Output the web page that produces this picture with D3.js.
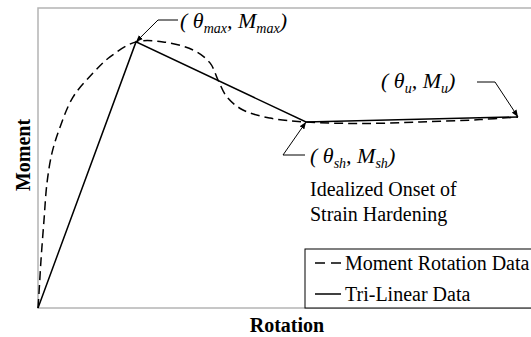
<!DOCTYPE html>
<html>
<head>
<meta charset="utf-8">
<script src="https://cdn.jsdelivr.net/npm/d3@7"></script>
<style>
  html, body { margin: 0; padding: 0; background: #fff; }
  svg { display: block; }
  text { font-family: "Liberation Serif", "Times New Roman", serif; fill: #000; }
</style>
</head>
<body>
<svg id="chart" width="531" height="337"></svg>
<script>
// Measured moment–rotation response (normalised rotation, normalised moment)
const momentRotationData = [
  [0, 0], [0.2, 5], [0.6, 16], [1.2, 29.3], [1.8, 41.7], [2.8, 51.7],
  [4.2, 59.3], [7, 70.3], [11, 78.3], [14.4, 83.7], [19.6, 88.7],
  [25, 88.7], [31, 86], [34.4, 81.7], [36, 76], [37.8, 70.3], [41, 66],
  [46.4, 63.3], [53.6, 62], [64.4, 61.5], [76.4, 62], [88.4, 62.8], [96, 63.7]
];

// Tri-linear idealisation: origin, peak, onset of strain hardening, ultimate
const triLinearData = [[0, 0], [19.6, 88.7], [53.6, 62], [96, 63.7]];

const pointMax = triLinearData[1];
const pointSh = triLinearData[2];
const pointU = triLinearData[3];

const legendLabels = ["Moment Rotation Data", "Tri-Linear Data"];

const svg = d3.select("#chart");
const plotLeft = 38, plotTop = 8, plotBottom = 308, plotRight = 538;

const x = d3.scaleLinear().domain([0, 100]).range([plotLeft, plotRight]);
const y = d3.scaleLinear().domain([0, 100]).range([plotBottom, plotTop]);

// arrowhead marker
const defs = svg.append("defs");
defs.append("marker")
  .attr("id", "arrow")
  .attr("viewBox", "0 0 10 10")
  .attr("refX", 10).attr("refY", 5)
  .attr("markerWidth", 7).attr("markerHeight", 7)
  .attr("markerUnits", "userSpaceOnUse")
  .attr("orient", "auto")
  .append("path").attr("d", "M0,1 L10,5 L0,9 Z").attr("fill", "#000");

// plot frame
svg.append("rect")
  .attr("x", plotLeft).attr("y", plotTop)
  .attr("width", plotRight - plotLeft).attr("height", plotBottom - plotTop)
  .attr("fill", "none").attr("stroke", "#b4b4b4").attr("stroke-width", 1.5);

svg.append("path")
  .datum(momentRotationData)
  .attr("d", d3.line().x(d => x(d[0])).y(d => y(d[1])).curve(d3.curveCatmullRom.alpha(0.5)))
  .attr("fill", "none").attr("stroke", "#000")
  .attr("stroke-width", 1.5).attr("stroke-dasharray", "9,5");

svg.append("path")
  .datum(triLinearData)
  .attr("d", d3.line().x(d => x(d[0])).y(d => y(d[1])))
  .attr("fill", "none").attr("stroke", "#000").attr("stroke-width", 1.5);

// annotation leaders
function leader(pts) {
  svg.append("path")
    .attr("d", d3.line()(pts))
    .attr("fill", "none").attr("stroke", "#000").attr("stroke-width", 1)
    .attr("marker-end", "url(#arrow)");
}
leader([[178, 20], [158, 20], [x(pointMax[0]), y(pointMax[1])]]);
leader([[477, 82], [495, 82], [x(pointU[0]), y(pointU[1])]]);
leader([[305, 155], [283, 155], [x(pointSh[0]), y(pointSh[1])]]);

// point label "( θ_sub , M_sub)"
function pointLabel(px, py, sub) {
  const t = svg.append("text").attr("x", px).attr("y", py)
    .attr("font-style", "italic").attr("font-size", 22);
  t.append("tspan").text("( θ");
  t.append("tspan").attr("font-size", 14).attr("dy", 5).text(sub);
  t.append("tspan").attr("dy", -5).text(", M");
  t.append("tspan").attr("font-size", 14).attr("dy", 5).text(sub);
  t.append("tspan").attr("dy", -5).text(")");
}
pointLabel(180, 28, "max");
pointLabel(381, 88, "u");
pointLabel(310, 163, "sh");

svg.append("text").attr("x", 310).attr("y", 196).attr("font-size", 20)
  .text("Idealized Onset of");
svg.append("text").attr("x", 310).attr("y", 221).attr("font-size", 20)
  .text("Strain Hardening");

// axis titles
svg.append("text")
  .attr("transform", "translate(30,155) rotate(-90)")
  .attr("text-anchor", "middle").attr("font-weight", "bold").attr("font-size", 20)
  .text("Moment");
svg.append("text")
  .attr("x", 287).attr("y", 332)
  .attr("text-anchor", "middle").attr("font-weight", "bold").attr("font-size", 20)
  .text("Rotation");

// legend
const lg = svg.append("g");
lg.append("rect").attr("x", 305).attr("y", 249).attr("width", 240).attr("height", 59)
  .attr("fill", "#fff").attr("stroke", "#000").attr("stroke-width", 1);
const styles = ["10,6", null];
legendLabels.forEach((lab, i) => {
  const ly = 263 + i * 31;
  lg.append("line").attr("x1", 315).attr("x2", 341).attr("y1", ly).attr("y2", ly)
    .attr("stroke", "#000").attr("stroke-width", 1.5)
    .attr("stroke-dasharray", styles[i]);
  lg.append("text").attr("x", 345).attr("y", ly + 7).attr("font-size", 20).text(lab);
});
</script>
</body>
</html>
